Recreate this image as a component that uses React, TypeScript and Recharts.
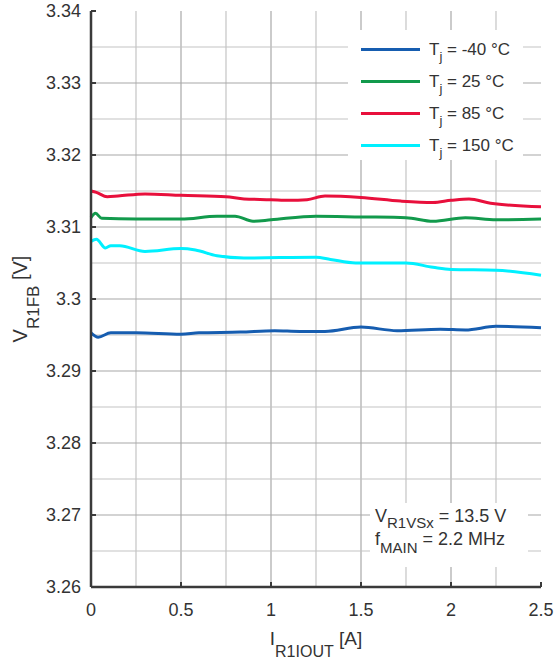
import React from 'react';
import { LineChart, Line, XAxis, YAxis, ReferenceLine, Legend } from 'recharts';

const FONT = '"Liberation Sans", Arial, Helvetica, sans-serif';
const TEXT = '#333333';

const tempLabels = ['-40', '25', '85', '150'];
const seriesColors = ['#165db0', '#129a4c', '#e8103c', '#00f0ff'];

// Tj = -40 °C
const iN40 = [0, 0.04, 0.11, 0.25, 0.5, 0.6, 0.83, 1.02, 1.16, 1.3, 1.5, 1.7, 1.94, 2.08, 2.25, 2.5];
const vN40 = [3.2953, 3.2947, 3.2953, 3.2953, 3.2951, 3.2953, 3.2954, 3.2956, 3.2955, 3.2955, 3.2961, 3.2956, 3.2958, 3.2957, 3.2962, 3.296];
// Tj = 25 °C
const i25 = [0, 0.025, 0.06, 0.25, 0.5, 0.7, 0.8, 0.9, 1.0, 1.25, 1.5, 1.75, 1.9, 2.08, 2.25, 2.5];
const v25 = [3.3113, 3.3119, 3.3112, 3.3111, 3.3111, 3.3115, 3.3115, 3.3108, 3.311, 3.3115, 3.3114, 3.3113, 3.3108, 3.3113, 3.311, 3.3111];
// Tj = 85 °C
const i85 = [0, 0.03, 0.09, 0.15, 0.3, 0.5, 0.75, 0.85, 1.0, 1.1, 1.2, 1.3, 1.5, 1.72, 1.9, 2.0, 2.1, 2.22, 2.5];
const v85 = [3.315, 3.3148, 3.3142, 3.3143, 3.3146, 3.3144, 3.3142, 3.3139, 3.3138, 3.3137, 3.3138, 3.3143, 3.3141, 3.3136, 3.3134, 3.3137, 3.3139, 3.3133, 3.3128];
// Tj = 150 °C
const i150 = [0, 0.03, 0.08, 0.11, 0.16, 0.3, 0.5, 0.58, 0.7, 0.85, 1.25, 1.33, 1.47, 1.75, 1.9, 2.0, 2.25, 2.5];
const v150 = [3.308, 3.3083, 3.3071, 3.3074, 3.3074, 3.3066, 3.307, 3.3068, 3.306, 3.3057, 3.3058, 3.3055, 3.305, 3.305, 3.3044, 3.3041, 3.304, 3.3033];

const seriesI = [iN40, i25, i85, i150];
const seriesV = [vN40, v25, v85, v150];

const xTicks = [0, 0.5, 1, 1.5, 2, 2.5];
const xMinorGrid = [0.25, 0.75, 1.25, 1.75, 2.25];
const xMajorGrid = [0.5, 1, 1.5, 2];
const yTicks = [3.26, 3.27, 3.28, 3.29, 3.3, 3.31, 3.32, 3.33, 3.34];
const yMajorGrid = [3.27, 3.28, 3.29, 3.3, 3.31, 3.32, 3.33];
const yMinorGrid = [3.265, 3.275, 3.285, 3.295, 3.305, 3.315, 3.325, 3.335];

const seriesData = seriesI.map((xs, s) => xs.map((x, k) => ({ x, y: seriesV[s][k] })));

const XTitle = (props: any) => {
  const vb = props.viewBox || { x: 0, y: 0, width: 0, height: 0 };
  const cx = vb.x + vb.width / 2;
  const by = vb.y + 58;
  return (
    <text x={cx} y={by} textAnchor="middle" fill={TEXT} fontFamily={FONT} fontSize={19}>
      <tspan>I</tspan>
      <tspan dy={12} fontSize={16}>R1IOUT</tspan>
      <tspan dy={-12}> [A]</tspan>
    </text>
  );
};

const YTitle = (props: any) => {
  const vb = props.viewBox || { x: 0, y: 0, width: 0, height: 0 };
  const bx = 27;
  const cy = vb.y + vb.height / 2;
  return (
    <text x={bx} y={cy} textAnchor="middle" fill={TEXT} fontFamily={FONT} fontSize={20}
      transform={`rotate(-90, ${bx}, ${cy})`}>
      <tspan>V</tspan>
      <tspan dy={12} fontSize={17}>R1FB</tspan>
      <tspan dy={-12}> [V]</tspan>
    </text>
  );
};

const LegendBox = () => {
  return (
    <div style={{ width: 175, height: 130, background: '#fff', position: 'relative', fontFamily: FONT }}>
      {tempLabels.map((t: string, i: number) => (
        <div key={i} style={{ position: 'absolute', left: 0, top: 3 + i * 32, height: 32, width: 175 }}>
          <div style={{ position: 'absolute', left: 13, top: 15, width: 59, height: 3, background: seriesColors[i] }} />
          <div style={{ position: 'absolute', left: 81, top: 8, fontSize: 17, lineHeight: '17px', color: TEXT, whiteSpace: 'nowrap' }}>
            T<span style={{ fontSize: 13, position: 'relative', top: 6 }}>j</span> = {t} °C
          </div>
        </div>
      ))}
    </div>
  );
};

export default function App() {
  const tickStyle = { fontSize: 18, fill: TEXT, fontFamily: FONT };
  const border = { stroke: '#3a3a3a', strokeWidth: 2.5 };
  const tickLn = { stroke: '#3a3a3a', strokeWidth: 2 };
  return (
    <div style={{ position: 'absolute', left: 0, top: 0, width: 556, height: 663, background: '#fff' }}>
      <LineChart width={556} height={663} margin={{ top: 11, right: 15, left: 0, bottom: 0 }}>
        <XAxis dataKey="x" type="number" domain={[0, 2.5]} ticks={xTicks} allowDuplicatedCategory={false}
          tickFormatter={(v: number) => String(v)} height={76} tick={tickStyle}
          axisLine={border} tickLine={tickLn} tickSize={-5} tickMargin={21} interval={0}
          label={{ content: XTitle }} />
        <XAxis xAxisId="top" orientation="top" type="number" domain={[0, 2.5]} ticks={xTicks}
          height={0} tick={false} axisLine={border} tickLine={tickLn} tickSize={-5} interval={0} />
        <YAxis type="number" domain={[3.26, 3.34]} ticks={yTicks} width={91} tick={tickStyle}
          tickFormatter={(v: number) => String(v)} axisLine={border} tickLine={tickLn}
          tickSize={-5} tickMargin={15} interval={0} label={{ content: YTitle }} />
        <YAxis yAxisId="right" orientation="right" type="number" domain={[3.26, 3.34]} ticks={yTicks}
          width={0} tick={false} axisLine={border} tickLine={tickLn} tickSize={-5} interval={0} />
        {xMinorGrid.map((v) => (
          <ReferenceLine key={'xm' + v} x={v} stroke="#c4c4c4" strokeWidth={1.2} />
        ))}
        {xMajorGrid.map((v) => (
          <ReferenceLine key={'xM' + v} x={v} stroke="#a8a8a8" strokeWidth={1.2} />
        ))}
        {yMinorGrid.map((v) => (
          <ReferenceLine key={'ym' + v} y={v} stroke="#c4c4c4" strokeWidth={1.2} />
        ))}
        {yMajorGrid.map((v) => (
          <ReferenceLine key={'yM' + v} y={v} stroke="#a8a8a8" strokeWidth={1.2} />
        ))}
        {seriesData.map((d, s) => (
          <Line key={s} data={d} dataKey="y" name={tempLabels[s]} type="monotone"
            stroke={seriesColors[s]} strokeWidth={3} dot={false} activeDot={false}
            isAnimationActive={false} />
        ))}
        <Legend layout="vertical" align="center" verticalAlign="middle" content={LegendBox}
          wrapperStyle={{ left: 348, top: 30, width: 175, height: 130, right: 'auto', bottom: 'auto' }} />
      </LineChart>
      <div style={{ position: 'absolute', left: 370, top: 503, width: 158, height: 64, background: '#fff', fontFamily: FONT, color: TEXT }}>
        <div style={{ position: 'absolute', left: 5, top: 4, fontSize: 18, lineHeight: '18px', whiteSpace: 'nowrap' }}>
          V<span style={{ fontSize: 15, position: 'relative', top: 6 }}>R1VSx</span> = 13.5 V
        </div>
        <div style={{ position: 'absolute', left: 5, top: 27, fontSize: 18, lineHeight: '18px', whiteSpace: 'nowrap' }}>
          f<span style={{ fontSize: 15, position: 'relative', top: 8 }}>MAIN</span> = 2.2 MHz
        </div>
      </div>
    </div>
  );
}
